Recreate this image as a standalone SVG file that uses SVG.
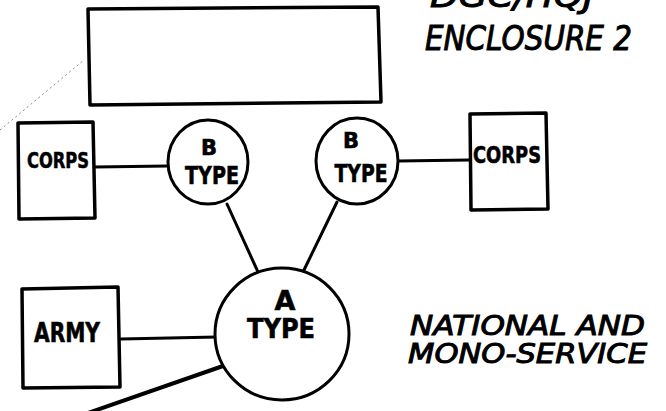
<svg xmlns="http://www.w3.org/2000/svg" width="666" height="411" viewBox="0 0 666 411">
  <style>
    .box { fill: #fff; stroke: #000; stroke-width: 3.5; stroke-linejoin: round; }
    .node { fill: #fff; stroke: #000; stroke-width: 3; }
    .link { stroke: #000; stroke-width: 3; stroke-linecap: round; fill: none; }
    .thick { stroke-width: 4; }
    .lbl { font-family: "DejaVu Sans", "Liberation Sans", sans-serif; font-weight: bold; fill: #000; stroke: #000; stroke-width: 0.6; text-anchor: middle; }
    .note { font-family: "DejaVu Sans", "Liberation Sans", sans-serif; font-style: italic; fill: #000; stroke: #000; stroke-width: 1; }
  </style>

  <rect width="666" height="411" fill="#fff"/>

  <!-- faint dotted guide -->
  <line x1="0" y1="130" x2="84" y2="60" stroke="#888" stroke-width="1" stroke-dasharray="2 3"/>

  <!-- connectors -->
  <g id="connectors">
    <line class="link" x1="95" y1="167" x2="168" y2="166"/>
    <line class="link" x1="398" y1="161" x2="469" y2="160"/>
    <line class="link" x1="227" y1="204" x2="258" y2="272"/>
    <line class="link" x1="337" y1="202" x2="304" y2="270"/>
    <line class="link" x1="121" y1="339" x2="217" y2="337"/>
    <line class="link thick" x1="223" y1="366" x2="88" y2="413"/>
  </g>

  <!-- top panel -->
  <g id="top-panel">
    <path class="box" d="M88,9 L378,7 L381,102 L90,105 Z"/>
  </g>

  <!-- corps, left -->
  <g id="corps-left">
    <path class="box" d="M18,123 L93,122 L95,218 L19,219 Z"/>
    <text class="lbl" x="58" y="168" font-size="22" textLength="62" lengthAdjust="spacingAndGlyphs">CORPS</text>
  </g>

  <!-- corps, right -->
  <g id="corps-right">
    <path class="box" d="M470,114 L546,113 L548,209 L471,210 Z"/>
    <text class="lbl" x="507" y="163" font-size="23" textLength="68" lengthAdjust="spacingAndGlyphs">CORPS</text>
  </g>

  <!-- B type, left -->
  <g id="b-left">
    <ellipse class="node" cx="208" cy="162" rx="40" ry="42"/>
    <text class="lbl" x="209" y="155" font-size="21">B</text>
    <text class="lbl" x="212" y="184" font-size="24" textLength="54" lengthAdjust="spacingAndGlyphs">TYPE</text>
  </g>

  <!-- B type, right -->
  <g id="b-right">
    <ellipse class="node" cx="357" cy="161" rx="41" ry="43"/>
    <text class="lbl" x="351" y="148" font-size="21">B</text>
    <text class="lbl" x="361" y="182" font-size="24" textLength="53" lengthAdjust="spacingAndGlyphs">TYPE</text>
  </g>

  <!-- A type -->
  <g id="a-type">
    <ellipse class="node" cx="282" cy="334" rx="67" ry="66"/>
    <text class="lbl" x="285" y="310" font-size="27">A</text>
    <text class="lbl" x="281" y="338" font-size="27" textLength="68" lengthAdjust="spacingAndGlyphs">TYPE</text>
  </g>

  <!-- army -->
  <g id="army">
    <path class="box" d="M22,289 L118,287 L120,387 L23,388 Z"/>
    <text class="lbl" x="67" y="342" font-size="26" textLength="66" lengthAdjust="spacingAndGlyphs">ARMY</text>
  </g>

  <!-- annotations -->
  <g id="notes">
    <text class="note" x="430" y="7" font-size="32" textLength="164" lengthAdjust="spacingAndGlyphs">DGC/HQJ</text>
    <text class="note" x="425" y="50" font-size="34" textLength="207" lengthAdjust="spacingAndGlyphs">ENCLOSURE 2</text>
    <text class="note" x="410" y="335" font-size="27" textLength="235" lengthAdjust="spacingAndGlyphs">NATIONAL AND</text>
    <text class="note" x="408" y="363" font-size="27" textLength="239" lengthAdjust="spacingAndGlyphs">MONO-SERVICE</text>
  </g>
</svg>
